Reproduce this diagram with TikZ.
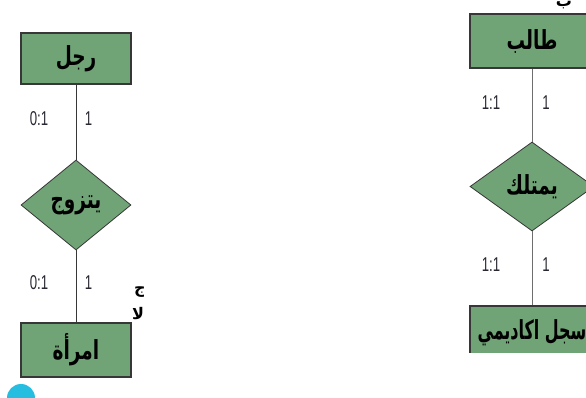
\documentclass[tikz,border=0pt]{standalone}
\usepackage{fontspec}
\setmainfont{Liberation Sans}
\newfontfamily\arabicfont[Script=Arabic]{DejaVu Sans}
\TeXXeTstate=1
\usetikzlibrary{shapes.geometric}
\definecolor{ergreen}{RGB}{112,164,118}
\definecolor{erline}{RGB}{55,55,55}
\definecolor{erlinelight}{RGB}{110,110,110}
\definecolor{cyanball}{RGB}{38,190,224}
\definecolor{cardtext}{RGB}{40,40,50}
\newcommand\artxt[1]{\scalebox{0.88}[1.25]{\arabicfont\bfseries\beginR #1\endR}}
\newcommand\artxtnarrow[1]{\scalebox{0.76}[1.25]{\arabicfont\bfseries\beginR #1\endR}}
\newcommand\fragtxt[1]{{\arabicfont\bfseries\beginR #1\endR}}
\newcommand\narrowtxt[1]{\scalebox{0.66}[1]{#1}}
\tikzset{
  entity/.style={rectangle, draw=erline, fill=ergreen, line width=1.1pt, inner sep=0pt,
    font=\fontsize{21}{24}\selectfont},
  rel/.style={diamond, draw=erline, fill=ergreen, line width=0.8pt, inner sep=0pt,
    font=\fontsize{21}{24}\selectfont},
  conn/.style={draw=erline, line width=0.8pt},
  connlight/.style={draw=erlinelight, line width=1pt},
  card/.style={inner sep=0pt, text=cardtext, font=\fontsize{20}{22}\selectfont},
  frag/.style={inner sep=0pt, font=\fontsize{16}{18}\selectfont}
}
\begin{document}
\begin{tikzpicture}[x=1pt,y=-1pt]
\useasboundingbox (0,0) rectangle (586,398);
\clip (0,0) rectangle (586,398);
\fill[white] (0,0) rectangle (586,398);

% left diagram
\node[entity, minimum width=110pt, minimum height=51pt] (man) at (76,58.5) {\artxt{رجل}};
\node[rel, minimum width=110pt, minimum height=90pt] (marry) at (76,205) {\artxt{يتزوج}};
\node[entity, minimum width=110pt, minimum height=54pt] (woman) at (76,350) {\artxt{امرأة}};
\draw[conn] (man) -- (marry);
\draw[conn] (marry) -- (woman);
\node[card] (l1a) at (39,119) {\narrowtxt{0:1}};
\node[card] (l1b) at (88.5,119) {\narrowtxt{1}};
\node[card] (l2a) at (39,283) {\narrowtxt{0:1}};
\node[card] (l2b) at (88.5,283) {\narrowtxt{1}};

% fragments
\begin{scope}
  \clip (120,270) rectangle (143,330);
  \node[frag, anchor=west] (fr1) at (134,292) {\fragtxt{ج}};
  \node[frag, anchor=west] (fr2) at (132,314) {\fragtxt{لا}};
\end{scope}
\node[frag, anchor=south] (fr3) at (564,9) {\fragtxt{ب}};

% blue circle
\fill[cyanball] (21,398) circle[radius=14];

% right diagram
\node[entity, minimum width=124pt, minimum height=54pt] (student) at (532,41) {\artxt{طالب}};
\node[rel, minimum width=124pt, minimum height=89pt] (own) at (532,186.5) {\artxt{يمتلك}};
\begin{scope}
  \clip (0,0) rectangle (586,352);
  \node[entity, minimum width=124pt, minimum height=54pt] (record) at (532,333) {\artxtnarrow{سجل اكاديمي}};
\end{scope}
\draw[connlight] (student) -- (own);
\draw[connlight] (own) -- (record.north);
\node[card] (r1a) at (491,103) {\narrowtxt{1:1}};
\node[card] (r1b) at (546,103) {\narrowtxt{1}};
\node[card] (r2a) at (491,265) {\narrowtxt{1:1}};
\node[card] (r2b) at (546,265) {\narrowtxt{1}};
\end{tikzpicture}
\end{document}
